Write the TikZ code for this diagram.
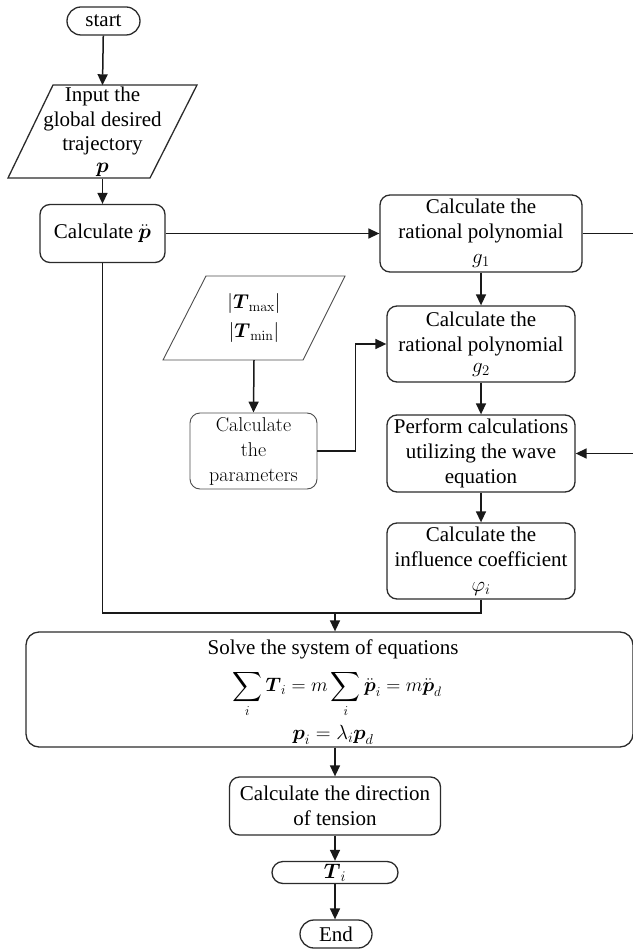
\RequirePackage{fix-cm}
\documentclass[tikz,border=0pt]{standalone}
\usepackage{amsmath}
\usepackage[no-math]{fontspec}
\setmainfont{Liberation Serif}
\usetikzlibrary{arrows.meta}
\definecolor{edge}{HTML}{2B2B2B}
\begin{document}
\begin{tikzpicture}[x=1pt,y=-1pt,
  box/.style={draw=edge, line width=1.3pt, rounded corners=10pt, align=center, inner sep=0pt,
    font=\fontsize{21}{25}\selectfont},
  term/.style={box, rounded corners=11pt},
  lmbox/.style={draw=black!70, line width=0.9pt, rounded corners=10pt, align=center, inner sep=0pt,
    font=\fontfamily{lmr}\fontsize{20}{25}\selectfont, text=black},
  txt/.style={inner sep=0pt, align=center, font=\fontsize{21}{25}\selectfont},
  para/.style={draw=edge, line width=1.3pt},
  lmpara/.style={draw=black!70, line width=0.9pt},
  ln/.style={line width=1.5pt, draw=black!90},
  arr/.style={ln, -{Triangle[length=11pt,width=10pt]}}
]
\useasboundingbox (0,0) rectangle (632,949);

% start
\node[term, rounded corners=14pt, minimum width=73pt, minimum height=28pt] (start) at (103.5,21) {start};

% input parallelogram
\draw[para] (53,85) -- (197,85) -- (150,178) -- (8,178) -- cycle;
\node[txt, minimum width=100pt, minimum height=93pt, font=\fontsize{21}{24.5}\selectfont] (inp) at (102.5,132)
  {Input the\\global desired\\trajectory\\[-3pt]$\boldsymbol{p}$};

% calculate p ddot
\node[box, minimum width=125pt, minimum height=58pt] (acc) at (102.5,233.5) {Calculate $\ddot{\boldsymbol{p}}$};

% right column
\node[box, minimum width=202pt, minimum height=77pt] (g1) at (481,233.5)
  {Calculate the\\rational polynomial\\$g_1$};
\node[box, minimum width=188pt, minimum height=76pt] (g2) at (481,344)
  {Calculate the\\rational polynomial\\[-4pt]$g_2$};
\node[box, minimum width=188pt, minimum height=77pt] (wave) at (481,453.5)
  {Perform calculations\\utilizing the wave\\equation};
\node[box, minimum width=188pt, minimum height=76pt] (infl) at (481,561)
  {Calculate the\\influence coefficient\\$\varphi_i$};

% T max / min parallelogram
\draw[lmpara] (206,276) -- (345,276) -- (303,360) -- (163,360) -- cycle;
\node[txt, minimum width=100pt, minimum height=84pt, font=\fontfamily{lmr}\fontsize{20}{29}\selectfont] (tin) at (254,318)
  {$|\boldsymbol{T}_{\max}|$\\$|\boldsymbol{T}_{\min}|$};

% parameters
\node[lmbox, minimum width=127pt, minimum height=76pt] (par) at (253.5,451)
  {Calculate\\the\\parameters};

% solve box
\node[box, rounded corners=13pt, minimum width=607pt, minimum height=115pt] (solve) at (329.5,689.5) {};
\node[txt] (s1) at (333,649) {Solve the system of equations};
\node[txt, font=\fontsize{19.5}{22}\selectfont] (s2) at (337,694)
  {$\displaystyle\sum_i \boldsymbol{T}_i = m\sum_i \ddot{\boldsymbol{p}}_i = m\ddot{\boldsymbol{p}}_d$};
\node[txt, font=\fontsize{20.5}{22}\selectfont] (s3) at (333,735)
  {$\boldsymbol{p}_i = \lambda_i\boldsymbol{p}_d$};

% bottom column
\node[box, minimum width=211pt, minimum height=58pt] (dir) at (335,806)
  {Calculate the direction\\of tension};
\node[term, minimum width=126pt, minimum height=22pt] (Ti) at (335,872.5) {$\boldsymbol{T}_i$};
\node[term, rounded corners=14pt, minimum width=72pt, minimum height=28pt] (fin) at (336,934) {End};

% connectors
\draw[arr] (start) -- (inp.north);
\draw[arr] (inp.south) -- (acc.north);
\draw[arr] (acc.east) -- (g1.west);
\draw[ln] (g1.east) -- ++(60,0) coordinate (rt);
\draw[arr] (rt) |- (wave.east);
\draw[arr] (g1) -- (g2);
\draw[arr] (g2) -- (wave);
\draw[arr] (wave) -- (infl);
\draw[arr] (tin.south) -- (par.north);
\draw[arr] (par.east) -- ++(38,0) |- (g2.west);
\coordinate (j) at (335,613);
\draw[ln] (acc.south) |- (j);
\draw[ln] (infl.south) |- (j);
\draw[arr] (j) -- (j |- solve.north);
\draw[arr] (dir.north |- solve.south) -- (dir.north);
\draw[arr] (dir) -- (Ti);
\draw[arr] (Ti.south) -- (Ti.south |- fin.north);
\end{tikzpicture}
\end{document}
